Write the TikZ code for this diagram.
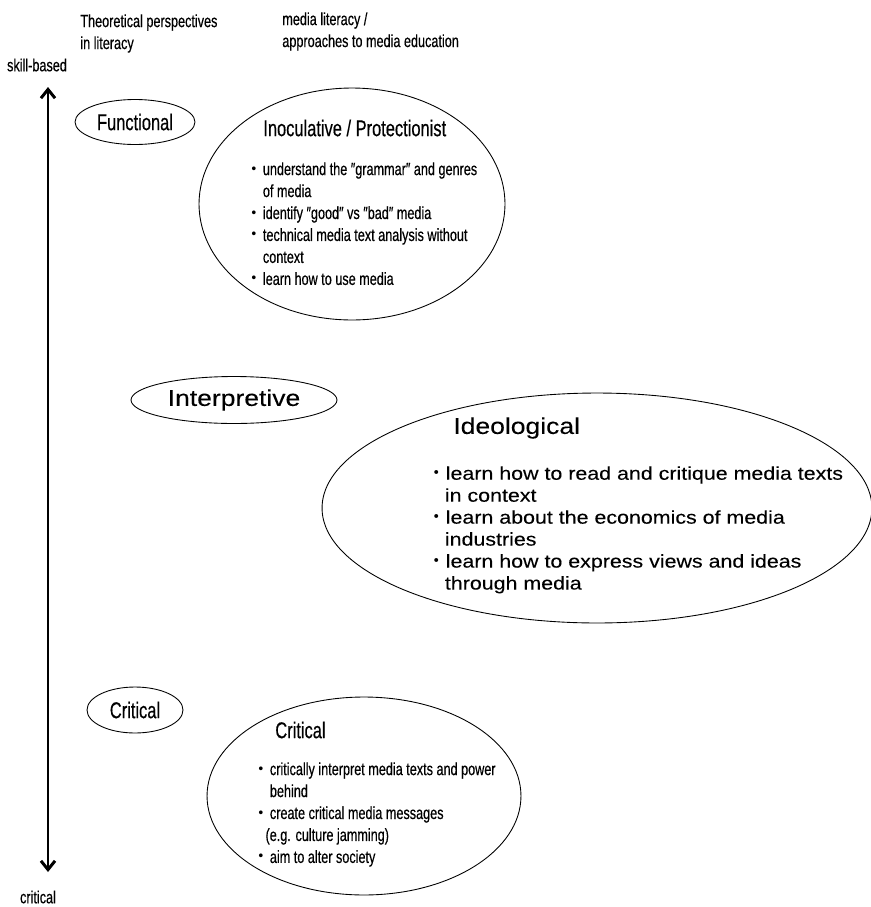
\documentclass[tikz,border=0pt]{standalone}
\usepackage{fontspec}
\setmainfont{Liberation Sans}[FakeStretch=0.72,FakeBold=0.4]
\newfontfamily\widefont{Liberation Sans}[FakeStretch=1.16,FakeBold=0.1]
\newfontfamily\cjk{Noto Sans CJK JP}
\usetikzlibrary{shapes.geometric}
\usetikzlibrary{arrows.meta}

\newcommand{\bul}{{\cjk ・}}
\newcommand{\ind}{\hspace*{10pt}}

\begin{document}
\begin{tikzpicture}[x=0.02cm,y=-0.02cm,
	oval/.style={draw, ellipse, inner sep=0pt, line width=0.5pt},
	lab/.style={inner sep=0pt, font=\fontsize{13}{16}\selectfont},
	body/.style={inner sep=0pt, align=left, font=\fontsize{10}{12.5}\selectfont},
	widelab/.style={inner sep=0pt, font=\widefont\fontsize{13}{16}\selectfont},
	widebody/.style={inner sep=0pt, align=left, font=\widefont\fontsize{10.5}{12.5}\selectfont}]
	\useasboundingbox (0,0) rectangle (870,907);

	% headings and axis ends
	\node (theo) [body, anchor=north west] at (80,14) {Theoretical perspectives\\in literacy};
	\node (appr) [body, anchor=north west] at (282,12) {media literacy /\\approaches to media education};
	\node (skill) [body] at (37,65) {skill-based};
	\node (crit) [body] at (38,897) {critical};

	\coordinate (top) at (48,87);
	\coordinate (bot) at (48,872);
	\draw [{Straight Barb[length=5pt,width=8pt]}-{Straight Barb[length=5pt,width=8pt]}, line width=1.7pt] (top) -- (bot);

	% perspectives
	\node (func) [oval, lab, minimum width=2.4cm, minimum height=0.9cm] at (135,122) {Functional};
	\node (interp) [oval, widelab, minimum width=4.12cm, minimum height=0.94cm] at (234,400) {Interpretive};
	\node (critp) [oval, lab, minimum width=1.92cm, minimum height=0.92cm] at (135,710) {Critical};

	% approaches
	\node (inoc) [oval, minimum width=6.12cm, minimum height=4.64cm] at (352,204) {};
	\node (inoct) [lab, anchor=west] at (263,128) {Inoculative / Protectionist};
	\node (inocl) [body, anchor=north west] at (245,162) {\bul understand the ″grammar″ and genres\\\ind of media\\\bul identify ″good″ vs ″bad″ media\\\bul technical media text analysis without\\\ind context\\\bul learn how to use media};

	\node (ideo) [oval, minimum width=11cm, minimum height=4.6cm] at (597,508) {};
	\node (ideot) [widelab, anchor=west] at (453,428) {Ideological};
	\node (ideol) [widebody, anchor=north west] at (427,466) {\bul learn how to read and critique media texts\\\ind in context\\\bul learn about the economics of media\\\ind industries\\\bul learn how to express views and ideas\\\ind through media};

	\node (crita) [oval, minimum width=6.28cm, minimum height=3.96cm] at (364,796) {};
	\node (critt) [lab, anchor=west] at (275,730) {Critical};
	\node (critl) [body, anchor=north west] at (252,762) {\bul critically interpret media texts and power\\\ind behind\\\bul create critical media messages\\\hspace*{7.5pt}(e.g. culture jamming)\\\bul aim to alter society};
\end{tikzpicture}
\end{document}
